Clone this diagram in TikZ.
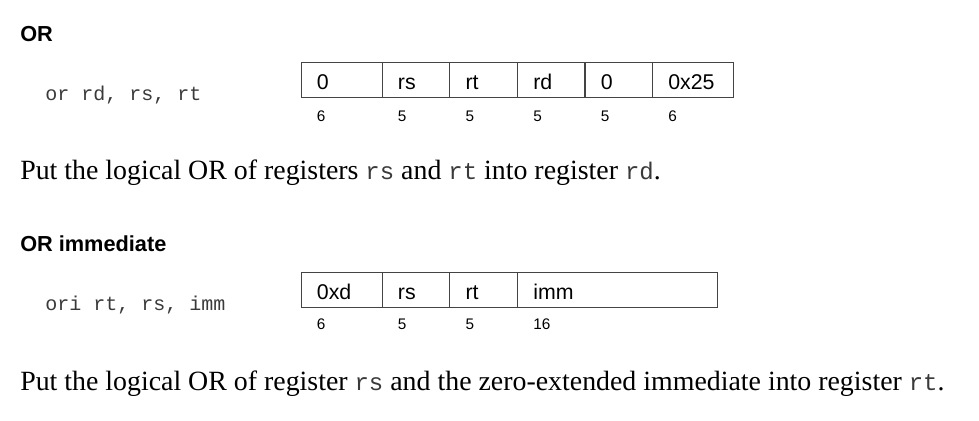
\documentclass[tikz,border=0pt]{standalone}
\usepackage{fontspec}
\setmainfont{Liberation Serif}
\setsansfont{Liberation Sans}
\setmonofont{Liberation Mono}
\definecolor{boxline}{HTML}{444444}
\definecolor{monogrey}{HTML}{3A3A3A}
\newcommand{\regname}[1]{{\ttfamily\fontsize{18pt}{22pt}\selectfont\color{monogrey}#1}}
\begin{document}
\begin{tikzpicture}[x=0.75pt,y=-0.75pt,
  heading/.style={anchor=base west,inner sep=0pt,font=\sffamily\bfseries\fontsize{16.3pt}{19pt}\selectfont},
  asm/.style={anchor=base west,inner sep=0pt,text=monogrey,font=\ttfamily\fontsize{15pt}{17pt}\selectfont},
  field/.style={draw=boxline,line width=0.8pt,anchor=north west,inner sep=0pt,minimum height=26.25pt},
  flabel/.style={anchor=base west,inner sep=0pt,font=\sffamily\fontsize{16pt}{18pt}\selectfont},
  bits/.style={anchor=base west,inner sep=0pt,font=\sffamily\fontsize{11.5pt}{13pt}\selectfont},
  desc/.style={anchor=base west,inner sep=0pt,font=\fontsize{20.9pt}{24pt}\selectfont}]
\useasboundingbox (0,0) rectangle (979,421);
% ---------- OR ----------
\node[heading] (h1) at (20,41.5) {OR};
\node[asm] (a1) at (45,100.5) {or rd, rs, rt};
\node[field,minimum width=60.75pt] (r1) at (300.7,62.3) {};
\node[field,minimum width=50.5pt]  (r2) at (381.7,62.3) {};
\node[field,minimum width=50.75pt] (r3) at (449.3,62.3) {};
\node[field,minimum width=50.5pt]  (r4) at (517,62.3) {};
\node[field,minimum width=50.25pt] (r5) at (584.7,62.3) {};
\node[field,minimum width=60.75pt] (r6) at (652,62.3) {};
\foreach \n/\t/\b in {r1/0/6,r2/rs/5,r3/rt/5,r4/rd/5,r5/0/5,r6/0x25/6}{
  \node[flabel] (\n t) at ([xshift=12pt,yshift=6.75pt]\n.south west) {\t};
  \node[bits] (\n b) at ([xshift=12pt,yshift=-17.5pt]\n.south west) {\b};
}
\node[desc] (d1) at (20,179) {Put the logical OR of registers \regname{rs} and \regname{rt} into register \regname{rd}.};
% ---------- OR immediate ----------
\node[heading] (h2) at (20,251) {OR immediate};
\node[asm] (a2) at (45,310.7) {ori rt, rs, imm};
\node[field,minimum width=60.75pt] (s1) at (300.7,272.3) {};
\node[field,minimum width=50.5pt]  (s2) at (381.7,272.3) {};
\node[field,minimum width=50.75pt] (s3) at (449.3,272.3) {};
\node[field,minimum width=150.25pt] (s4) at (517,272.3) {};
\foreach \n/\t/\b in {s1/0xd/6,s2/rs/5,s3/rt/5,s4/imm/16}{
  \node[flabel] (\n t) at ([xshift=12pt,yshift=6.75pt]\n.south west) {\t};
  \node[bits] (\n b) at ([xshift=12pt,yshift=-16pt]\n.south west) {\b};
}
\node[desc] (d2) at (20,390) {Put the logical OR of register \regname{rs} and the zero-extended immediate into register \regname{rt}.};
\end{tikzpicture}
\end{document}
